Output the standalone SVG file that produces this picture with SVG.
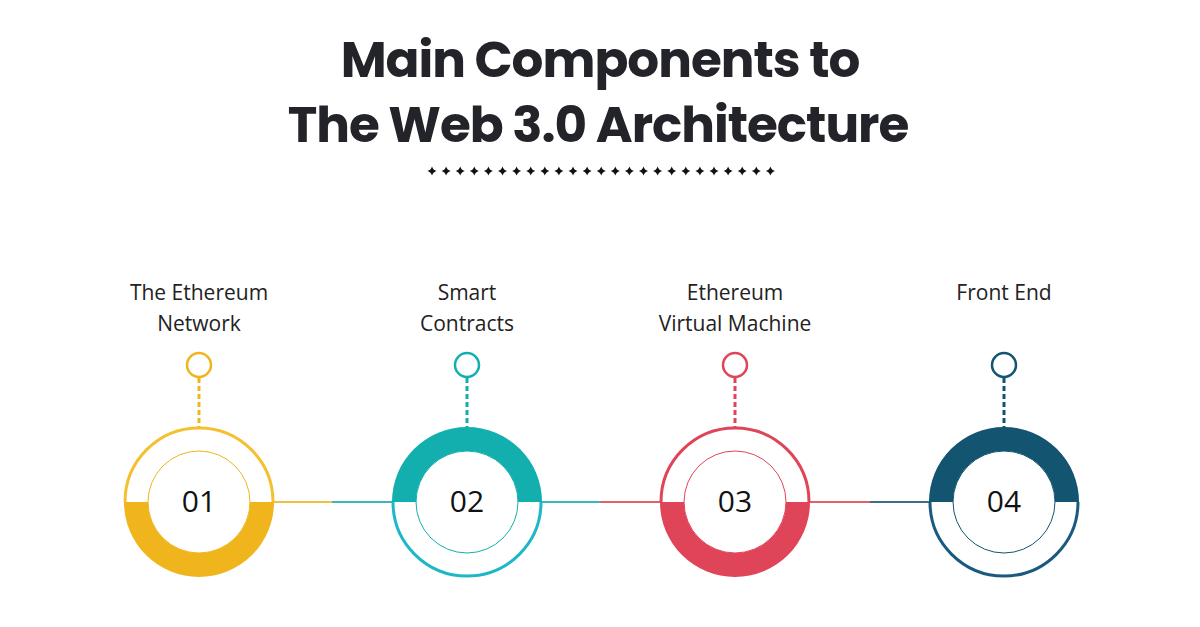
<svg xmlns="http://www.w3.org/2000/svg" width="1200" height="627" viewBox="0 0 1200 627">
<defs>
<style>
.t{font-family:"Poppins","Liberation Sans",Arial,sans-serif;font-weight:bold;font-size:50px;fill:#23232a;text-anchor:middle}
.l{font-family:"Open Sans","Liberation Sans",sans-serif;font-size:21px;fill:#222;text-anchor:middle}
.n{font-family:"Open Sans","Liberation Sans",sans-serif;font-size:30px;fill:#111;text-anchor:middle}
</style>
<path id="star" d="M0,-4.5 Q1,-1 4.5,0 Q1,1 0,4.5 Q-1,1 -4.5,0 Q-1,-1 0,-4.5Z" fill="#111"/>
</defs>
<rect width="1200" height="627" fill="#fff"/>
<text class="t" x="600" y="77" letter-spacing="-1">Main Components to</text>
<text class="t" x="598" y="142" letter-spacing="-1">The Web 3.0 Architecture</text>
<g id="stars">
<use href="#star" x="432" y="171"/><use href="#star" x="446.1" y="171"/><use href="#star" x="460.2" y="171"/><use href="#star" x="474.3" y="171"/><use href="#star" x="488.4" y="171"/><use href="#star" x="502.5" y="171"/><use href="#star" x="516.6" y="171"/><use href="#star" x="530.7" y="171"/><use href="#star" x="544.8" y="171"/><use href="#star" x="558.9" y="171"/><use href="#star" x="573" y="171"/><use href="#star" x="587.1" y="171"/><use href="#star" x="601.2" y="171"/><use href="#star" x="615.3" y="171"/><use href="#star" x="629.4" y="171"/><use href="#star" x="643.5" y="171"/><use href="#star" x="657.6" y="171"/><use href="#star" x="671.7" y="171"/><use href="#star" x="685.8" y="171"/><use href="#star" x="699.9" y="171"/><use href="#star" x="714" y="171"/><use href="#star" x="728.1" y="171"/><use href="#star" x="742.2" y="171"/><use href="#star" x="756.3" y="171"/><use href="#star" x="770.4" y="171"/>
</g>
<g id="connectors" stroke-width="2">
<line x1="274" y1="502" x2="332" y2="502" stroke="#F0C040"/>
<line x1="332" y1="502" x2="392" y2="502" stroke="#3BB6BE"/>
<line x1="542" y1="502" x2="600" y2="502" stroke="#3BB6BE"/>
<line x1="600" y1="502" x2="660" y2="502" stroke="#E06070"/>
<line x1="810" y1="502" x2="870" y2="502" stroke="#E06070"/>
<line x1="870" y1="502" x2="929" y2="502" stroke="#3D6E86"/>
</g>
<g id="node1">
<text class="l" x="199" y="300">The Ethereum</text><text class="l" x="199" y="331">Network</text>
<circle cx="199" cy="365" r="12" fill="none" stroke="#F0B51D" stroke-width="2.5"/>
<line x1="199" y1="378" x2="199" y2="427" stroke="#F0B51D" stroke-width="3" stroke-dasharray="5,3"/>
<path d="M125,502 A74,74 0 0 1 273,502" fill="none" stroke="#F5C030" stroke-width="3"/>
<path d="M124,502 A75,75 0 0 0 274,502 L250,502 A51,51 0 0 1 148,502Z" fill="#F0B51D"/>
<circle cx="199" cy="502" r="51" fill="#fff" stroke="#F0B51D" stroke-width="1"/>
<text class="n" x="199" y="512">01</text>
</g>
<g id="node2">
<text class="l" x="467" y="300">Smart</text><text class="l" x="467" y="331">Contracts</text>
<circle cx="467" cy="365" r="12" fill="none" stroke="#13AFAF" stroke-width="2.5"/>
<line x1="467" y1="378" x2="467" y2="427" stroke="#13AFAF" stroke-width="3" stroke-dasharray="5,3"/>
<path d="M393,502 A74,74 0 0 0 541,502" fill="none" stroke="#1DB8C8" stroke-width="3"/>
<path d="M392,502 A75,75 0 0 1 542,502 L518,502 A51,51 0 0 0 416,502Z" fill="#13AFAF"/>
<circle cx="467" cy="502" r="51" fill="#fff" stroke="#13AFAF" stroke-width="1"/>
<text class="n" x="467" y="512">02</text>
</g>
<g id="node3">
<text class="l" x="735" y="300">Ethereum</text><text class="l" x="735" y="331">Virtual Machine</text>
<circle cx="735" cy="365" r="12" fill="none" stroke="#DF4458" stroke-width="2.5"/>
<line x1="735" y1="378" x2="735" y2="427" stroke="#DF4458" stroke-width="3" stroke-dasharray="5,3"/>
<path d="M661,502 A74,74 0 0 1 809,502" fill="none" stroke="#DF4458" stroke-width="3"/>
<path d="M660,502 A75,75 0 0 0 810,502 L786,502 A51,51 0 0 1 684,502Z" fill="#DF4458"/>
<circle cx="735" cy="502" r="51" fill="#fff" stroke="#DF4458" stroke-width="1"/>
<text class="n" x="735" y="512">03</text>
</g>
<g id="node4">
<text class="l" x="1004" y="300">Front End</text>
<circle cx="1004" cy="365" r="12" fill="none" stroke="#135470" stroke-width="2.5"/>
<line x1="1004" y1="378" x2="1004" y2="427" stroke="#135470" stroke-width="3" stroke-dasharray="5,3"/>
<path d="M930,502 A74,74 0 0 0 1078,502" fill="none" stroke="#1A5A80" stroke-width="3"/>
<path d="M929,502 A75,75 0 0 1 1079,502 L1055,502 A51,51 0 0 0 953,502Z" fill="#135470"/>
<circle cx="1004" cy="502" r="51" fill="#fff" stroke="#135470" stroke-width="1"/>
<text class="n" x="1004" y="512">04</text>
</g>
</svg>
